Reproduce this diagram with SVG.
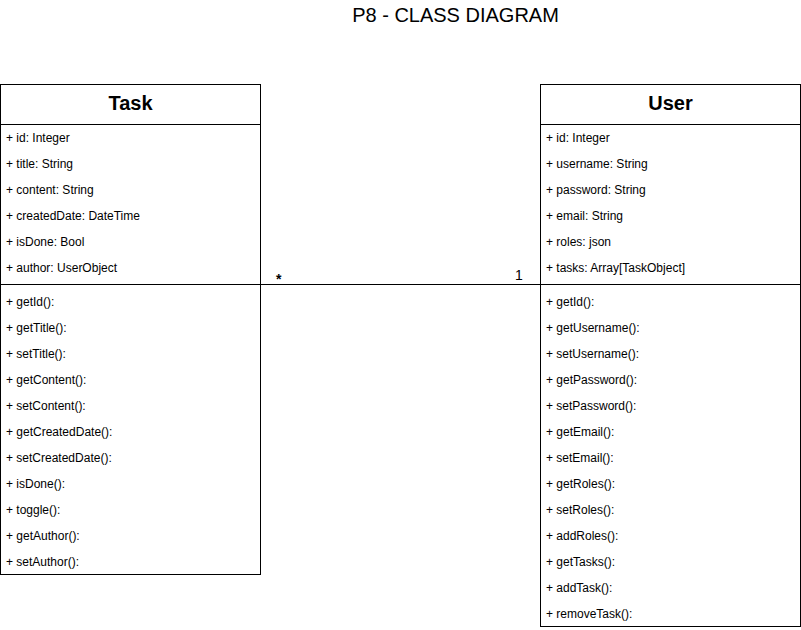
<svg xmlns="http://www.w3.org/2000/svg" width="801" height="630" viewBox="0 0 801 630">
<style>
text{font-family:"Liberation Sans",Arial,Helvetica,sans-serif;fill:#000}
.box{fill:#fff;stroke:#000;stroke-width:1}
.ln{stroke:#000;stroke-width:1;fill:none}
.hd{font-size:20px;font-weight:bold;text-anchor:middle}
.it{font-size:12px}
.ml{font-size:14px}
.ttl{font-size:20px;text-anchor:middle}
</style>
<rect width="801" height="630" fill="#fff"/>
<text class="ttl" x="455.5" y="22">P8 - CLASS DIAGRAM</text>
<g id="connectors">
<line class="ln" x1="260.5" y1="284.5" x2="540.5" y2="284.5"/>
<text class="ml" x="276" y="284" font-weight="bold">*</text>
<text class="ml" x="515" y="280">1</text>
</g>
<g id="task">
<rect class="box" x="0.5" y="84.5" width="260" height="490"/>
<line class="ln" x1="0.5" y1="124.5" x2="260.5" y2="124.5"/>
<line class="ln" x1="0.5" y1="284.5" x2="260.5" y2="284.5"/>
<text class="hd" x="130.5" y="110">Task</text>
<text class="it" x="6" y="142">+ id: Integer</text>
<text class="it" x="6" y="168">+ title: String</text>
<text class="it" x="6" y="194">+ content: String</text>
<text class="it" x="6" y="220">+ createdDate: DateTime</text>
<text class="it" x="6" y="246">+ isDone: Bool</text>
<text class="it" x="6" y="272">+ author: UserObject</text>
<text class="it" x="6" y="306">+ getId():</text>
<text class="it" x="6" y="332">+ getTitle():</text>
<text class="it" x="6" y="358">+ setTitle():</text>
<text class="it" x="6" y="384">+ getContent():</text>
<text class="it" x="6" y="410">+ setContent():</text>
<text class="it" x="6" y="436">+ getCreatedDate():</text>
<text class="it" x="6" y="462">+ setCreatedDate():</text>
<text class="it" x="6" y="488">+ isDone():</text>
<text class="it" x="6" y="514">+ toggle():</text>
<text class="it" x="6" y="540">+ getAuthor():</text>
<text class="it" x="6" y="566">+ setAuthor():</text>
</g>
<g id="user">
<rect class="box" x="540.5" y="84.5" width="260" height="542"/>
<line class="ln" x1="540.5" y1="124.5" x2="800.5" y2="124.5"/>
<line class="ln" x1="540.5" y1="284.5" x2="800.5" y2="284.5"/>
<text class="hd" x="670.5" y="110">User</text>
<text class="it" x="546" y="142">+ id: Integer</text>
<text class="it" x="546" y="168">+ username: String</text>
<text class="it" x="546" y="194">+ password: String</text>
<text class="it" x="546" y="220">+ email: String</text>
<text class="it" x="546" y="246">+ roles: json</text>
<text class="it" x="546" y="272">+ tasks: Array[TaskObject]</text>
<text class="it" x="546" y="306">+ getId():</text>
<text class="it" x="546" y="332">+ getUsername():</text>
<text class="it" x="546" y="358">+ setUsername():</text>
<text class="it" x="546" y="384">+ getPassword():</text>
<text class="it" x="546" y="410">+ setPassword():</text>
<text class="it" x="546" y="436">+ getEmail():</text>
<text class="it" x="546" y="462">+ setEmail():</text>
<text class="it" x="546" y="488">+ getRoles():</text>
<text class="it" x="546" y="514">+ setRoles():</text>
<text class="it" x="546" y="540">+ addRoles():</text>
<text class="it" x="546" y="566">+ getTasks():</text>
<text class="it" x="546" y="592">+ addTask():</text>
<text class="it" x="546" y="618">+ removeTask():</text>
</g>
</svg>
